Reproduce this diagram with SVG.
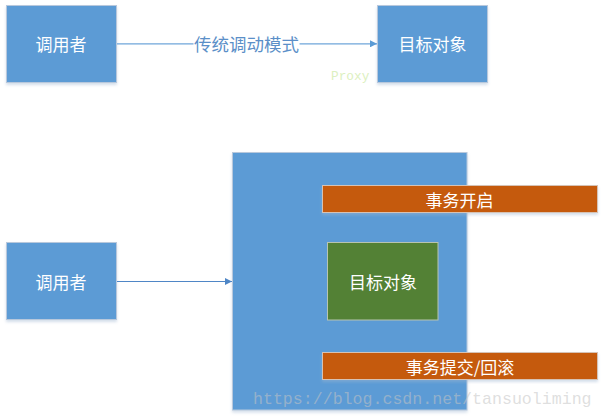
<svg xmlns="http://www.w3.org/2000/svg" width="604" height="417" viewBox="0 0 604 417">
<defs>
<filter id="sh" x="-10%" y="-10%" width="120%" height="125%">
<feDropShadow dx="0" dy="2" stdDeviation="1.5" flood-color="#9fb6d0" flood-opacity="0.45"/>
</filter>
<marker id="ahL" viewBox="0 0 10 10" refX="10" refY="5" markerWidth="9" markerHeight="7" markerUnits="userSpaceOnUse" orient="auto">
<path d="M0,0 L10,5 L0,10 Z" fill="#5b9bd5"/>
</marker>
<marker id="ahD" viewBox="0 0 10 10" refX="10" refY="5" markerWidth="9" markerHeight="7" markerUnits="userSpaceOnUse" orient="auto">
<path d="M0,0 L10,5 L0,10 Z" fill="#4f86c6"/>
</marker>
</defs>
<style>
.blue{fill:#5b9bd5;stroke:#b8c8dc;stroke-width:1}
.orange{fill:#c55a11;stroke:#d6c2b4;stroke-width:1}
.green{fill:#538135;stroke:#b8c4b0;stroke-width:1}
.t{font-family:"Noto Sans CJK SC","Noto Sans",sans-serif;font-size:17px;fill:#ffffff;text-anchor:middle;dominant-baseline:central}
.lbl{font-family:"Noto Sans CJK SC","Noto Sans",sans-serif;font-size:17.5px;fill:#5b8fc8;text-anchor:middle;dominant-baseline:central}
</style>
<rect width="604" height="417" fill="#ffffff"/>
<g id="caller1">
<rect class="blue" x="6.5" y="5.5" width="110" height="77" filter="url(#sh)"/>
<text class="t" x="61" y="43.5">调用者</text>
</g>
<g id="target1">
<rect class="blue" x="377.5" y="5.5" width="110" height="77" filter="url(#sh)"/>
<text class="t" x="432.5" y="43.5">目标对象</text>
</g>
<g id="proxy">
<rect class="blue" x="232.5" y="152.5" width="234.5" height="257.5" filter="url(#sh)"/>
</g>
<g id="txbegin">
<rect class="orange" x="322.5" y="185.5" width="275" height="27" filter="url(#sh)"/>
<text class="t" x="459.5" y="199.5">事务开启</text>
</g>
<g id="target2">
<rect class="green" x="327.5" y="242.5" width="110.5" height="77.5"/>
<text class="t" x="383" y="281.5">目标对象</text>
</g>
<g id="txcommit">
<rect class="orange" x="322.5" y="352.5" width="275" height="27" filter="url(#sh)"/>
<text class="t" x="460" y="366">事务提交/回滚</text>
</g>
<g id="caller2">
<rect class="blue" x="6.5" y="242.5" width="110" height="77" filter="url(#sh)"/>
<text class="t" x="61" y="281">调用者</text>
</g>
<g id="connectors">
<line x1="117" y1="43.8" x2="377" y2="43.8" stroke="#6fa6da" stroke-width="1.3" marker-end="url(#ahL)"/>
<rect x="193.5" y="33" width="106" height="22" fill="#ffffff"/>
<text class="lbl" x="246.5" y="43.5">传统调动模式</text>
<line x1="117" y1="281.5" x2="232" y2="281.5" stroke="#4f86c6" stroke-width="1" marker-end="url(#ahD)"/>
</g>
<text x="331" y="79.5" font-family="Liberation Mono, monospace" font-size="12.8" fill="#dcf0c0">Proxy</text>
<text x="253" y="404" font-family="Liberation Mono, monospace" font-size="16.6" fill="#c4c4c4" fill-opacity="0.55">https://blog.csdn.net/tansuoliming</text>
</svg>
